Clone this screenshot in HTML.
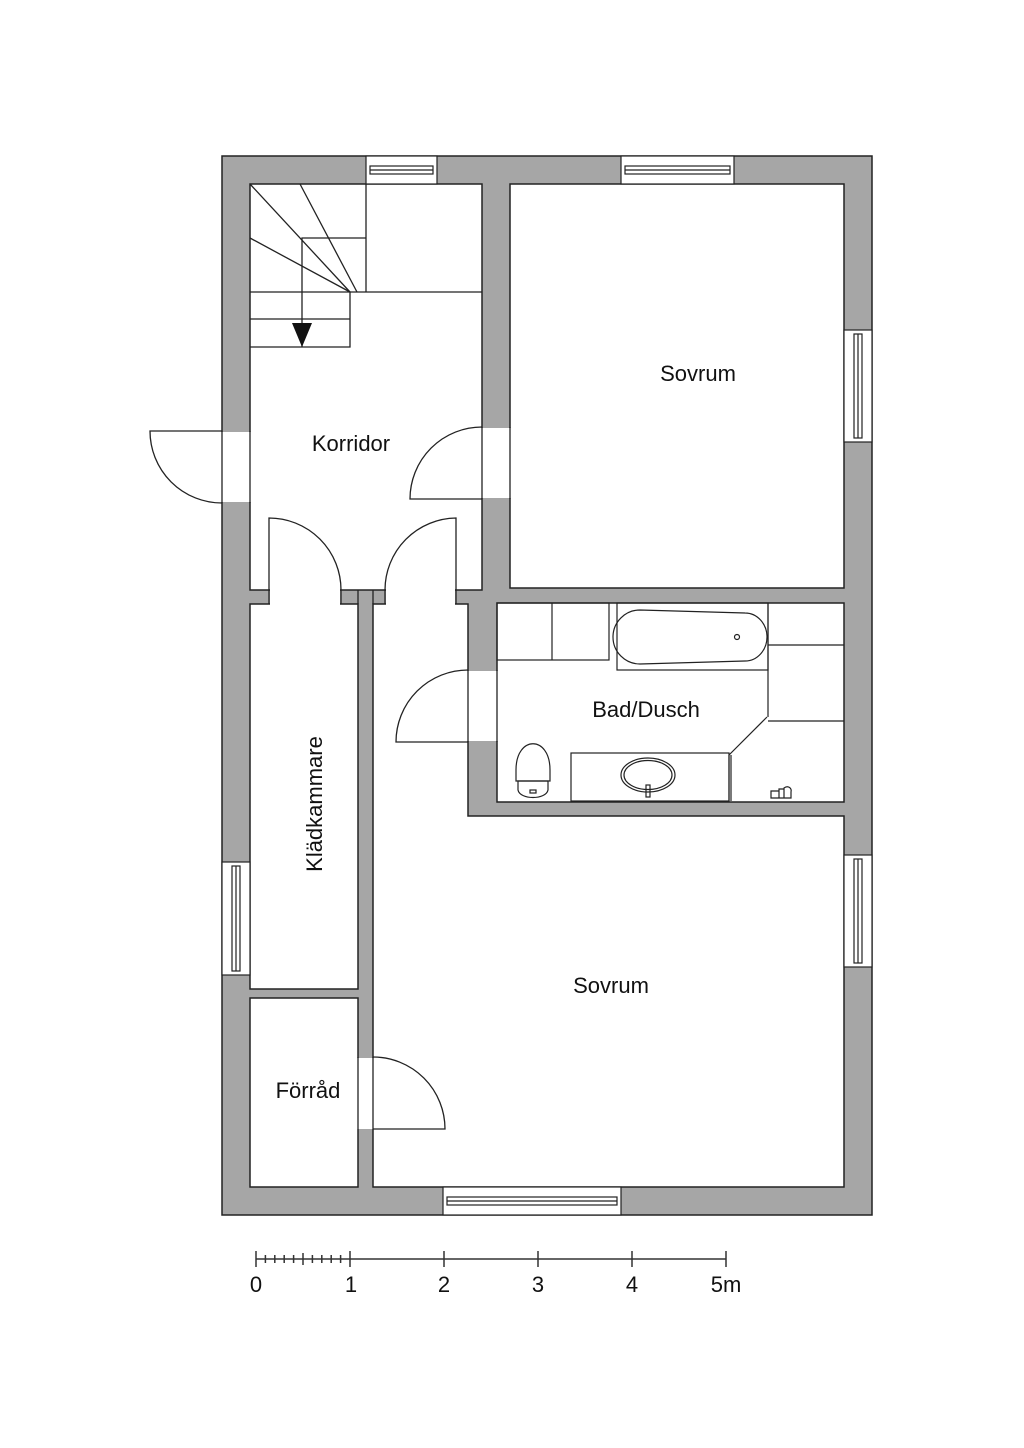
<!DOCTYPE html>
<html><head><meta charset="utf-8"><style>
html,body{margin:0;padding:0;background:#fff;}
svg{display:block;}
text{font-family:"Liberation Sans",sans-serif;fill:#111;}
</style></head><body>
<svg width="1024" height="1448" viewBox="0 0 1024 1448" xmlns="http://www.w3.org/2000/svg">
<rect x="0" y="0" width="1024" height="1448" fill="#fff"/>
<!-- outer walls -->
<rect x="222" y="156" width="650" height="1059" fill="#a6a6a6" stroke="#222" stroke-width="1.5"/>
<g fill="#fff" stroke="#222" stroke-width="1.5">
 <!-- corridor -->
 <rect x="250" y="184" width="232" height="406"/>
 <!-- sovrum top -->
 <rect x="510" y="184" width="334" height="404"/>
 <!-- kladkammare -->
 <rect x="250" y="604" width="108" height="385"/>
 <!-- forrad -->
 <rect x="250" y="998" width="108" height="189"/>
 <!-- hall + lower sovrum -->
 <polygon points="373,604 468,604 468,816 844,816 844,1187 373,1187"/>
 <!-- bathroom -->
 <rect x="497" y="603" width="347" height="199"/>
</g>
<!-- openings -->
<g fill="#fff" stroke="none">
 <rect x="221" y="432" width="30" height="70"/>
 <rect x="481" y="428" width="30" height="70"/>
 <rect x="270" y="589" width="70" height="16"/>
 <rect x="386" y="589" width="69" height="16"/>
 <rect x="467" y="671" width="31" height="70"/>
 <rect x="357" y="1058" width="17" height="71"/>
</g>
<g fill="none" stroke="#222" stroke-width="1.3">
 <!-- jambs -->
 <path d="M222 431V503 M250 431V503 M482 427V499 M510 427V499"/>
 <path d="M269 590V604 M341 590V604 M385 590V604 M456 590V604 M358 604V590 M373 604V590"/>
 <path d="M468 670V742 M497 670V742 M358 1057V1129 M373 1057V1129"/>
 <!-- doors -->
 <path d="M222 431H150 A72 72 0 0 0 222 503"/>
 <path d="M482 499H410 A72 72 0 0 1 482 427"/>
 <path d="M269 590V518 A72 72 0 0 1 341 590"/>
 <path d="M456 590V518 A72 72 0 0 0 385 590"/>
 <path d="M468 742H396 A72 72 0 0 1 468 670"/>
 <path d="M373 1129H445 A72 72 0 0 0 373 1057"/>
</g>
<!-- windows -->
<g fill="#fff" stroke="#222" stroke-width="1.2">
 <rect x="366" y="156" width="71" height="28"/>
 <rect x="370" y="166" width="63" height="8"/><line x1="370" y1="170" x2="433" y2="170"/>
 <rect x="621" y="156" width="113" height="28"/>
 <rect x="625" y="166" width="105" height="8"/><line x1="625" y1="170" x2="730" y2="170"/>
 <rect x="443" y="1187" width="178" height="28"/>
 <rect x="447" y="1197" width="170" height="8"/><line x1="447" y1="1201" x2="617" y2="1201"/>
 <rect x="844" y="330" width="28" height="112"/>
 <rect x="854" y="334" width="8" height="104"/><line x1="858" y1="334" x2="858" y2="438"/>
 <rect x="844" y="855" width="28" height="112"/>
 <rect x="854" y="859" width="8" height="104"/><line x1="858" y1="859" x2="858" y2="963"/>
 <rect x="222" y="862" width="28" height="113"/>
 <rect x="232" y="866" width="8" height="105"/><line x1="236" y1="866" x2="236" y2="971"/>
</g>
<!-- stairs -->
<g fill="none" stroke="#222" stroke-width="1.3">
 <line x1="250" y1="184" x2="350" y2="292"/>
 <line x1="300" y1="184" x2="357" y2="292"/>
 <line x1="250" y1="238" x2="350" y2="292"/>
 <line x1="366" y1="184" x2="366" y2="292"/>
 <path d="M302 347V238H366"/>
 <line x1="250" y1="292" x2="482" y2="292"/>
 <path d="M250 347H350V292 M250 319H350"/>
</g>
<polygon points="292,323 312,323 302,347" fill="#111"/>
<!-- bathroom fixtures -->
<g fill="none" stroke="#222" stroke-width="1.2">
 <rect x="497" y="603" width="112" height="57"/>
 <line x1="552" y1="603" x2="552" y2="660"/>
 <rect x="617" y="603" width="151" height="67"/>
 <path d="M640 610 L745 613 A22 24 0 0 1 745 661 L640 664 A27 27 0 0 1 640 610 Z"/>
 <circle cx="737" cy="637" r="2.5"/>
 <path d="M768 603V717 M768 645H844 M768 721H844"/>
 <line x1="729" y1="755" x2="767" y2="717"/>
 <line x1="729" y1="755" x2="729" y2="801"/>
 <line x1="731" y1="755" x2="731" y2="801"/>
 <rect x="571" y="753" width="158" height="48"/>
 <ellipse cx="648" cy="775" rx="27" ry="17"/>
 <ellipse cx="648" cy="775" rx="24" ry="14.5"/>
 <rect x="646" y="785" width="4" height="12"/>
 <path d="M516 770 C516 735 550 735 550 770 L550 781 H516 Z"/>
 <path d="M518 781 H548 L548 790 C546 800 520 800 518 790 Z"/>
 <rect x="530" y="790" width="6" height="3"/>
 <path d="M771 791h8v7h-8z M779 789h5v9h-5z M784 788c4-3 8 0 7 4v6h-7z"/>
</g>
<!-- labels -->
<text x="698" y="381" font-size="22" text-anchor="middle">Sovrum</text>
<text x="351" y="451" font-size="22" text-anchor="middle">Korridor</text>
<text x="646" y="717" font-size="22" text-anchor="middle">Bad/Dusch</text>
<text x="611" y="993" font-size="22" text-anchor="middle">Sovrum</text>
<text x="308" y="1098" font-size="22" text-anchor="middle">Förråd</text>
<text x="0" y="0" font-size="22" text-anchor="middle" transform="translate(322,804) rotate(-90)">Klädkammare</text>
<!-- scale bar -->
<g stroke="#333" stroke-width="1.5">
 <line x1="256" y1="1259" x2="726" y2="1259"/>
 <path d="M256 1251V1267 M350 1251V1267 M444 1251V1267 M538 1251V1267 M632 1251V1267 M726 1251V1267 M303 1253V1265"/>
 <path d="M265.4 1255V1263 M274.8 1255V1263 M284.2 1255V1263 M293.6 1255V1263 M312.4 1255V1263 M321.8 1255V1263 M331.2 1255V1263 M340.6 1255V1263"/>
</g>
<g font-size="22">
 <text x="256" y="1292" text-anchor="middle">0</text>
 <text x="351" y="1292" text-anchor="middle">1</text>
 <text x="444" y="1292" text-anchor="middle">2</text>
 <text x="538" y="1292" text-anchor="middle">3</text>
 <text x="632" y="1292" text-anchor="middle">4</text>
 <text x="726" y="1292" text-anchor="middle">5m</text>
</g>
</svg>
</body></html>
